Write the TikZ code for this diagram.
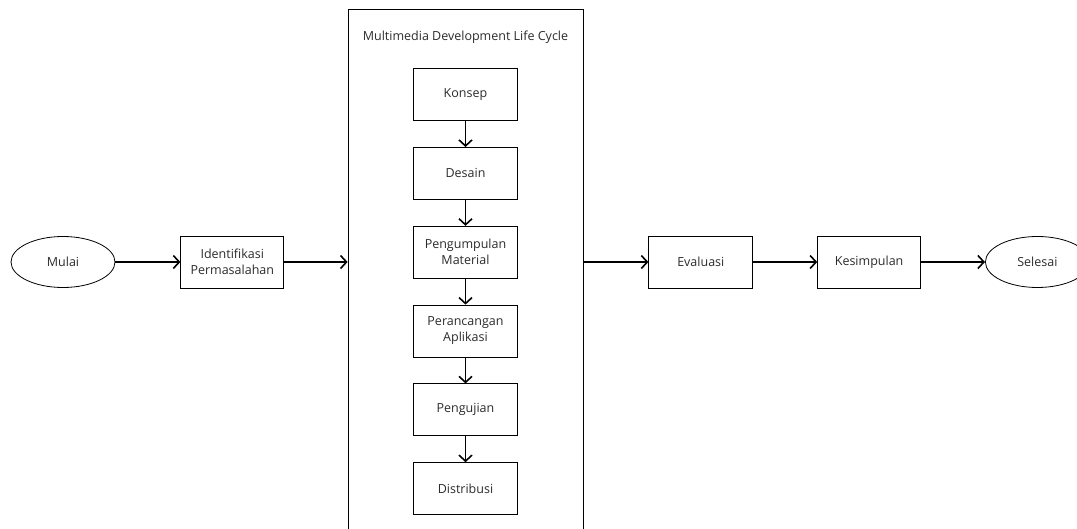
\documentclass[tikz,border=0pt]{standalone}
\usepackage{fontspec}
\setmainfont{Open Sans}
\usepackage{xcolor}
\usepackage{tikz}
\usetikzlibrary{shapes.geometric,arrows.meta,positioning}
\definecolor{ink}{HTML}{2B2B2B}
\tikzset{
  arr/.style={-{Straight Barb[length=6pt,width=13pt]},line width=1.6pt},
  box/.style={rectangle,draw,line width=0.8pt,minimum width=104pt,
    minimum height=52pt,align=center,text=ink,font=\fontsize{12.5}{16}\selectfont},
  term/.style={ellipse,draw,line width=0.8pt,minimum width=104pt,
    minimum height=51pt,text=ink,font=\fontsize{12.5}{16}\selectfont},
  frame/.style={rectangle,draw,line width=0.8pt,minimum width=235pt,
    minimum height=540pt},
}

\begin{document}
\begin{tikzpicture}[x=1pt,y=1pt,node distance=65pt]
\useasboundingbox (0,0) rectangle (1077,528);
\clip (0,0) rectangle (1077,528);

% outer chain
\node[term] (mulai) at (63,266) {Mulai};
\node[box,minimum width=103pt,right=65pt of mulai] (ident) {Identifikasi\\Permasalahan};

% MDLC frame
\node[frame] (mdlc) at (465.5,249) {};
\node[text=ink,font=\fontsize{12.5}{16}\selectfont,below=19pt of mdlc.north] (title) {Multimedia Development Life Cycle};
\node[box,below=21pt of title] (konsep) {Konsep};
\node[box,below=26pt of konsep] (desain) {Desain};
\node[box,below=26pt of desain] (kumpul) {Pengumpulan\\Material};
\node[box,below=26pt of kumpul] (rancang) {Perancangan\\Aplikasi};
\node[box,below=26pt of rancang] (uji) {Pengujian};
\node[box,below=26pt of uji] (distri) {Distribusi};

\coordinate (mdlcin) at (ident.east -| mdlc.west);
\coordinate (mdlcout) at (ident.east -| mdlc.east);

\node[box,right=65pt of mdlcout] (eval) {Evaluasi};
\node[box,minimum width=103pt,right=64pt of eval] (simpul) {Kesimpulan};
\node[term,right=64pt of simpul] (selesai) {Selesai};

\draw[arr] (mulai) -- (ident);
\draw[arr] (ident) -- (mdlcin);
\draw[arr] (mdlcout) -- (eval);
\draw[arr] (eval) -- (simpul);
\draw[arr] (simpul) -- (selesai);

\foreach \a/\b in {konsep/desain,desain/kumpul,kumpul/rancang,rancang/uji,uji/distri}
  \draw[arr] (\a) -- (\b);
\end{tikzpicture}
\end{document}
